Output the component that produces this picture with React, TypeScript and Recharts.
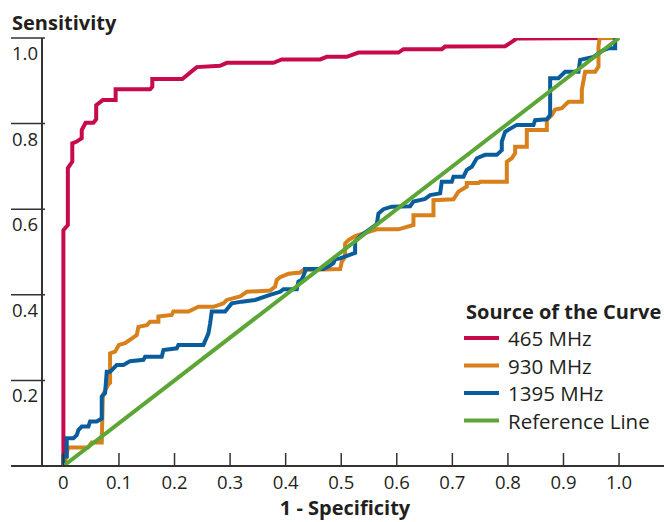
import React from 'react';
import { LineChart, Line, XAxis, YAxis, ReferenceLine, Legend } from 'recharts';

const xTicks = [0, 0.1, 0.2, 0.3, 0.4, 0.5, 0.6, 0.7, 0.8, 0.9, 1.0];
const xTickLabels = ['0', '0.1', '0.2', '0.3', '0.4', '0.5', '0.6', '0.7', '0.8', '0.9', '1.0'];
const yTicks = [0.2, 0.4, 0.6, 0.8, 1.0];
const yTickLabels = ['0.2', '0.4', '0.6', '0.8', '1.0'];

const seriesNames = ['465 MHz', '930 MHz', '1395 MHz', 'Reference Line'];
const seriesColors = ['#c70a4c', '#d7801c', '#0a5d9d', '#5ca636'];

const roc465: [number, number][] = [
  [0, 0], [0, 0.551], [0.008, 0.563], [0.008, 0.696], [0.016, 0.711], [0.016, 0.754],
  [0.024, 0.758], [0.033, 0.766], [0.033, 0.785], [0.04, 0.802], [0.054, 0.802],
  [0.059, 0.81], [0.059, 0.843], [0.071, 0.855], [0.094, 0.855], [0.094, 0.88],
  [0.156, 0.88], [0.16, 0.886], [0.16, 0.904], [0.214, 0.904], [0.24, 0.932],
  [0.282, 0.935], [0.294, 0.942], [0.378, 0.942], [0.393, 0.95], [0.462, 0.95],
  [0.474, 0.956], [0.51, 0.956], [0.531, 0.966], [0.603, 0.966], [0.612, 0.974],
  [0.681, 0.974], [0.687, 0.98], [0.795, 0.981], [0.807, 0.991], [0.816, 0.999],
  [0.996, 1.0], [1, 1],
];

const roc930: [number, number][] = [
  [0, 0], [0.005, 0.02], [0.008, 0.043], [0.044, 0.043], [0.051, 0.055], [0.069, 0.055],
  [0.071, 0.166], [0.08, 0.189], [0.084, 0.194], [0.084, 0.263], [0.093, 0.267],
  [0.1, 0.283], [0.111, 0.287], [0.132, 0.306], [0.135, 0.325], [0.15, 0.329],
  [0.156, 0.337], [0.171, 0.337], [0.171, 0.349], [0.195, 0.353], [0.198, 0.361],
  [0.225, 0.361], [0.243, 0.372], [0.27, 0.372], [0.279, 0.376], [0.288, 0.38],
  [0.294, 0.388], [0.318, 0.396], [0.33, 0.407], [0.372, 0.41], [0.381, 0.419],
  [0.384, 0.435], [0.39, 0.441], [0.405, 0.449], [0.426, 0.452], [0.432, 0.458],
  [0.498, 0.46], [0.501, 0.477], [0.507, 0.489], [0.507, 0.52], [0.513, 0.528],
  [0.525, 0.537], [0.564, 0.553], [0.603, 0.553], [0.63, 0.563], [0.63, 0.586],
  [0.666, 0.586], [0.666, 0.621], [0.702, 0.623], [0.711, 0.641], [0.726, 0.653],
  [0.726, 0.661], [0.747, 0.661], [0.75, 0.664], [0.798, 0.664], [0.798, 0.711],
  [0.807, 0.719], [0.813, 0.731], [0.813, 0.746], [0.834, 0.746], [0.834, 0.785],
  [0.87, 0.785], [0.87, 0.808], [0.879, 0.82], [0.885, 0.833], [0.897, 0.836],
  [0.909, 0.851], [0.933, 0.851], [0.933, 0.879], [0.939, 0.921], [0.957, 0.921],
  [0.963, 0.933], [0.963, 0.98], [0.965, 1.0], [0.993, 1.0], [1, 1],
];

const roc1395: [number, number][] = [
  [0, 0], [0, 0.022], [0.006, 0.022], [0.006, 0.065], [0.018, 0.065], [0.024, 0.072],
  [0.027, 0.084], [0.033, 0.092], [0.045, 0.092], [0.048, 0.104], [0.06, 0.104],
  [0.069, 0.111], [0.069, 0.162], [0.075, 0.17], [0.078, 0.22], [0.084, 0.22],
  [0.096, 0.236], [0.108, 0.236], [0.12, 0.245], [0.144, 0.248], [0.147, 0.255],
  [0.177, 0.255], [0.18, 0.271], [0.204, 0.275], [0.207, 0.283], [0.252, 0.283],
  [0.261, 0.31], [0.264, 0.333], [0.267, 0.361], [0.291, 0.361], [0.303, 0.38],
  [0.321, 0.384], [0.345, 0.388], [0.372, 0.4], [0.39, 0.407], [0.396, 0.413],
  [0.42, 0.413], [0.423, 0.431], [0.429, 0.435], [0.435, 0.454], [0.435, 0.46],
  [0.468, 0.46], [0.477, 0.466], [0.486, 0.474], [0.489, 0.483], [0.498, 0.485],
  [0.525, 0.498], [0.525, 0.524], [0.534, 0.537], [0.564, 0.565], [0.567, 0.59],
  [0.576, 0.6], [0.591, 0.606], [0.624, 0.607], [0.63, 0.618], [0.651, 0.624],
  [0.66, 0.633], [0.678, 0.637], [0.681, 0.664], [0.699, 0.664], [0.702, 0.676],
  [0.72, 0.676], [0.726, 0.692], [0.735, 0.699], [0.744, 0.719], [0.759, 0.727],
  [0.78, 0.727], [0.789, 0.738], [0.789, 0.758], [0.795, 0.781], [0.816, 0.797],
  [0.846, 0.797], [0.849, 0.808], [0.87, 0.81], [0.876, 0.82], [0.876, 0.906],
  [0.891, 0.906], [0.903, 0.921], [0.927, 0.921], [0.93, 0.949], [0.954, 0.956],
  [0.972, 0.972], [0.981, 0.976], [0.993, 0.976], [0.993, 0.999], [1, 1],
];

const refLine: [number, number][] = [[0, 0], [1, 1]];

const toRows = (pts: [number, number][]) => pts.map(([x, y]) => ({ x, y }));
const seriesData = [roc465, roc930, roc1395, refLine].map(toRows);

const FONT = '"Open Sans", sans-serif';
const INK = '#231f20';
const AXIS = '#333333';

const XTick = (props: any) => {
  const { x, y, payload } = props;
  const i = xTicks.indexOf(payload.value);
  return (
    <g>
      <line x1={x} x2={x} y1={y} y2={y - 13} stroke={AXIS} strokeWidth={1.5} />
      <text x={x} y={y + 23} textAnchor="middle" fontFamily={FONT} fontSize={18.5} fill={INK}>
        {i >= 0 ? xTickLabels[i] : String(payload.value)}
      </text>
    </g>
  );
};

const YTick = (props: any) => {
  const { x, y, payload } = props;
  const i = yTicks.indexOf(payload.value);
  return (
    <g>
      <line x1={x} x2={x + 34} y1={y} y2={y} stroke={AXIS} strokeWidth={1.5} />
      <text x={x + 1} y={y + 22} textAnchor="start" fontFamily={FONT} fontSize={18.5} fill={INK}>
        {i >= 0 ? yTickLabels[i] : String(payload.value)}
      </text>
    </g>
  );
};

const LegendBox = () => (
  <svg width={204} height={145} style={{ display: 'block' }}>
    <text x={6} y={24} fontFamily={FONT} fontWeight={700} fontSize={20} fill={INK}>
      Source of the Curve
    </text>
    {seriesNames.map((name, i) => (
      <g key={name}>
        <line x1={4} x2={39} y1={43 + i * 27.5} y2={43 + i * 27.5} stroke={seriesColors[i]} strokeWidth={4} />
        <text x={48} y={51 + i * 27.5} fontFamily={FONT} fontSize={20.5} fill={INK}>
          {name}
        </text>
      </g>
    ))}
  </svg>
);

export default function App() {
  return (
    <div style={{ position: 'absolute', left: 0, top: 0, width: 664, height: 522, background: '#fff' }}>
      <LineChart width={664} height={522} margin={{ top: 38, right: 0, bottom: 0, left: 10 }}>
        <XAxis
          type="number"
          dataKey="x"
          domain={[-0.0943, 1.0809]}
          ticks={xTicks}
          interval={0}
          height={56}
          tickSize={0}
          tickMargin={0}
          tickLine={false}
          axisLine={{ stroke: AXIS, strokeWidth: 2 }}
          tick={<XTick />}
          allowDataOverflow
          label={(p: any) => (
            <text
              x={p.viewBox.x + 334}
              y={p.viewBox.y + 49}
              textAnchor="middle"
              fontFamily={FONT}
              fontWeight={700}
              fontSize={20}
              fill={INK}
            >
              1 - Specificity
            </text>
          )}
        />
        <YAxis
          type="number"
          domain={[0, 1]}
          ticks={yTicks}
          interval={0}
          width={1}
          tickSize={0}
          tickMargin={0}
          tickLine={false}
          axisLine={false}
          tick={<YTick />}
          allowDataOverflow
        />
        <ReferenceLine
          segment={[{ x: -0.0385, y: 0 }, { x: -0.0385, y: 1 }]}
          stroke={AXIS}
          strokeWidth={2}
          ifOverflow="visible"
        />
        <ReferenceLine
          y={1}
          stroke="none"
          ifOverflow="visible"
          label={(p: any) => (
            <text
              x={12}
              y={p.viewBox.y - 8}
              textAnchor="start"
              fontFamily={FONT}
              fontWeight={700}
              fontSize={20}
              fill={INK}
            >
              Sensitivity
            </text>
          )}
        />
        {seriesData.map((d, i) => (
          <Line
            key={seriesNames[i]}
            data={d}
            dataKey="y"
            name={seriesNames[i]}
            type="linear"
            stroke={seriesColors[i]}
            strokeWidth={4}
            dot={false}
            activeDot={false}
            isAnimationActive={false}
          />
        ))}
        <Legend
          layout="vertical"
          align="center"
          verticalAlign="middle"
          wrapperStyle={{ left: 460, top: 295, width: 204, height: 145 }}
          content={() => <LegendBox />}
        />
      </LineChart>
    </div>
  );
}
